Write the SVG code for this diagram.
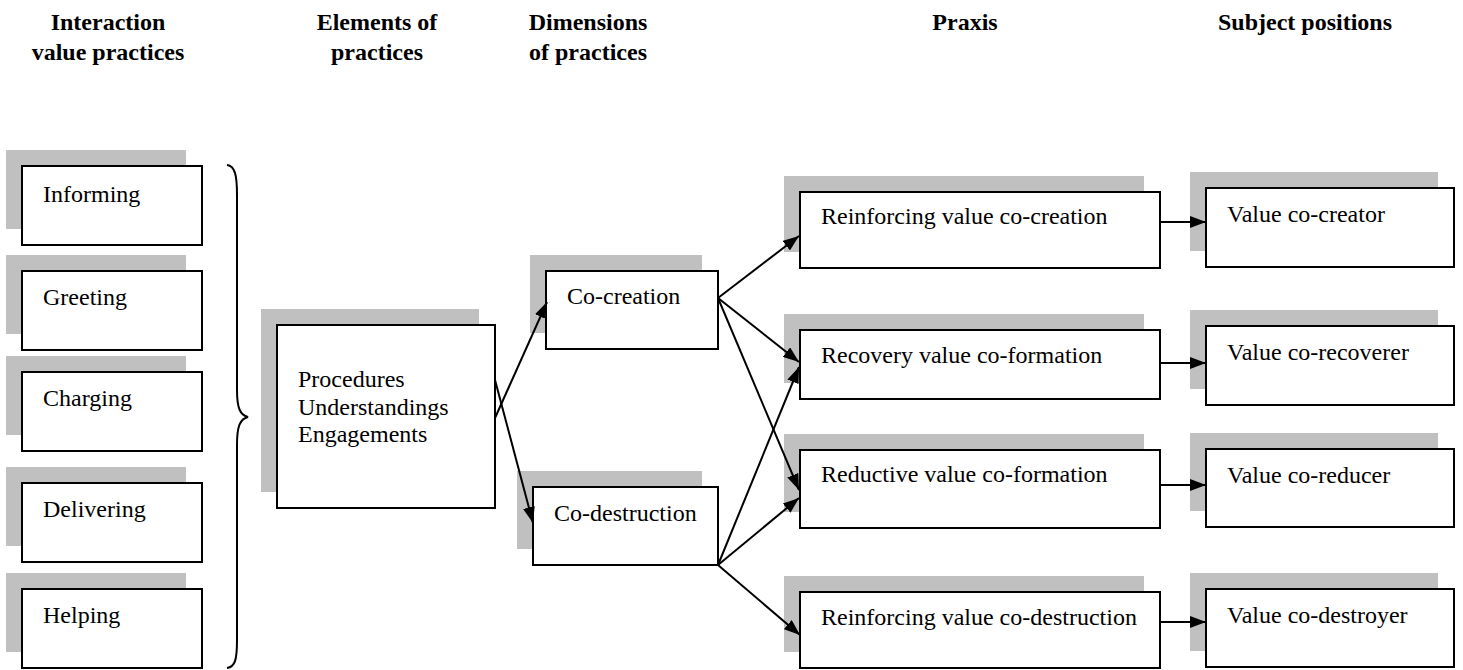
<svg xmlns="http://www.w3.org/2000/svg" width="1463" height="670" viewBox="0 0 1463 670">
<defs>
<marker id="ah" viewBox="0 0 16 12" refX="16" refY="6" markerWidth="16" markerHeight="12" markerUnits="userSpaceOnUse" orient="auto">
<path d="M0,0 L16,6 L0,12 Z" fill="#000"/>
</marker>
</defs>
<style>
.sh{fill:#c0c0c0;stroke:none}
.bx{fill:#fff;stroke:#000;stroke-width:2}
.t{font-family:"Liberation Serif","Times New Roman",serif;font-size:24px;fill:#000}
.h{font-family:"Liberation Serif","Times New Roman",serif;font-size:24px;font-weight:bold;fill:#000;text-anchor:middle}
.c{stroke:#000;stroke-width:2;fill:none}
.a{marker-end:url(#ah)}
</style>
<rect width="1463" height="670" fill="#fff"/>
<g id="headers">
<text class="h" x="108" y="30">Interaction</text>
<text class="h" x="108" y="60">value practices</text>
<text class="h" x="377" y="30">Elements of</text>
<text class="h" x="377" y="60">practices</text>
<text class="h" x="588" y="30">Dimensions</text>
<text class="h" x="588" y="60">of practices</text>
<text class="h" x="965" y="30">Praxis</text>
<text class="h" x="1305" y="30">Subject positions</text>
</g>
<g id="informing"><rect class="sh" x="6" y="150" width="180" height="79"/><rect class="bx" x="22" y="166" width="180" height="79"/><text class="t" x="43" y="202">Informing</text></g>
<g id="greeting"><rect class="sh" x="6" y="255" width="180" height="79"/><rect class="bx" x="22" y="271" width="180" height="79"/><text class="t" x="43" y="305">Greeting</text></g>
<g id="charging"><rect class="sh" x="6" y="356" width="180" height="79"/><rect class="bx" x="22" y="372" width="180" height="79"/><text class="t" x="43" y="406">Charging</text></g>
<g id="delivering"><rect class="sh" x="6" y="467" width="180" height="79"/><rect class="bx" x="22" y="483" width="180" height="79"/><text class="t" x="43" y="517">Delivering</text></g>
<g id="helping"><rect class="sh" x="6" y="573" width="180" height="79"/><rect class="bx" x="22" y="589" width="180" height="79"/><text class="t" x="43" y="623">Helping</text></g>
<g id="brace"><path class="c" d="M227,165 C235,166 237,175 237,195 L237,390 C237,408 240,415 248,417 C240,419 237,426 237,445 L237,640 C237,660 235,667 227,668"/></g>
<g id="elements"><rect class="sh" x="261" y="309" width="218" height="183"/><rect class="bx" x="277" y="325" width="218" height="183"/>
<text class="t" x="298" y="387">Procedures</text><text class="t" x="298" y="414.5">Understandings</text><text class="t" x="298" y="442">Engagements</text></g>
<g id="cocreation"><rect class="sh" x="530" y="255" width="172" height="78"/><rect class="bx" x="546" y="271" width="172" height="78"/><text class="t" x="567" y="304">Co-creation</text></g>
<g id="codestruction"><rect class="sh" x="517" y="471" width="185" height="78"/><rect class="bx" x="533" y="487" width="185" height="78"/><text class="t" x="554" y="521">Co-destruction</text></g>
<g id="p1"><rect class="sh" x="784" y="176" width="360" height="76"/><rect class="bx" x="800" y="192" width="360" height="76"/><text class="t" x="821" y="224">Reinforcing value co-creation</text></g>
<g id="p2"><rect class="sh" x="784" y="314" width="360" height="69"/><rect class="bx" x="800" y="330" width="360" height="69"/><text class="t" x="821" y="363">Recovery value co-formation</text></g>
<g id="p3"><rect class="sh" x="784" y="434" width="360" height="78"/><rect class="bx" x="800" y="450" width="360" height="78"/><text class="t" x="821" y="482">Reductive value co-formation</text></g>
<g id="p4"><rect class="sh" x="784" y="576" width="360" height="76"/><rect class="bx" x="800" y="592" width="360" height="76"/><text class="t" x="821" y="625">Reinforcing value co-destruction</text></g>
<g id="s1"><rect class="sh" x="1190" y="172" width="248" height="79"/><rect class="bx" x="1206" y="188" width="248" height="79"/><text class="t" x="1227" y="222">Value co-creator</text></g>
<g id="s2"><rect class="sh" x="1190" y="310" width="248" height="79"/><rect class="bx" x="1206" y="326" width="248" height="79"/><text class="t" x="1227" y="360">Value co-recoverer</text></g>
<g id="s3"><rect class="sh" x="1190" y="433" width="248" height="78"/><rect class="bx" x="1206" y="449" width="248" height="78"/><text class="t" x="1227" y="483">Value co-reducer</text></g>
<g id="s4"><rect class="sh" x="1190" y="573" width="248" height="78"/><rect class="bx" x="1206" y="589" width="248" height="78"/><text class="t" x="1227" y="623">Value co-destroyer</text></g>
<g id="connectors">
<line class="c a" x1="495" y1="418" x2="547" y2="302"/>
<line class="c a" x1="495" y1="380" x2="533" y2="523"/>
<line class="c a" x1="718" y1="298" x2="799" y2="236"/>
<line class="c a" x1="718" y1="298" x2="799" y2="362"/>
<line class="c a" x1="718" y1="298" x2="799" y2="490"/>
<line class="c a" x1="718" y1="565" x2="799" y2="367"/>
<line class="c a" x1="718" y1="565" x2="799" y2="498"/>
<line class="c a" x1="718" y1="565" x2="800" y2="635"/>
<line class="c a" x1="1160" y1="222" x2="1206" y2="222"/>
<line class="c a" x1="1160" y1="363" x2="1206" y2="363"/>
<line class="c a" x1="1160" y1="485" x2="1206" y2="485"/>
<line class="c a" x1="1160" y1="622" x2="1206" y2="622"/>
</g>
</svg>
